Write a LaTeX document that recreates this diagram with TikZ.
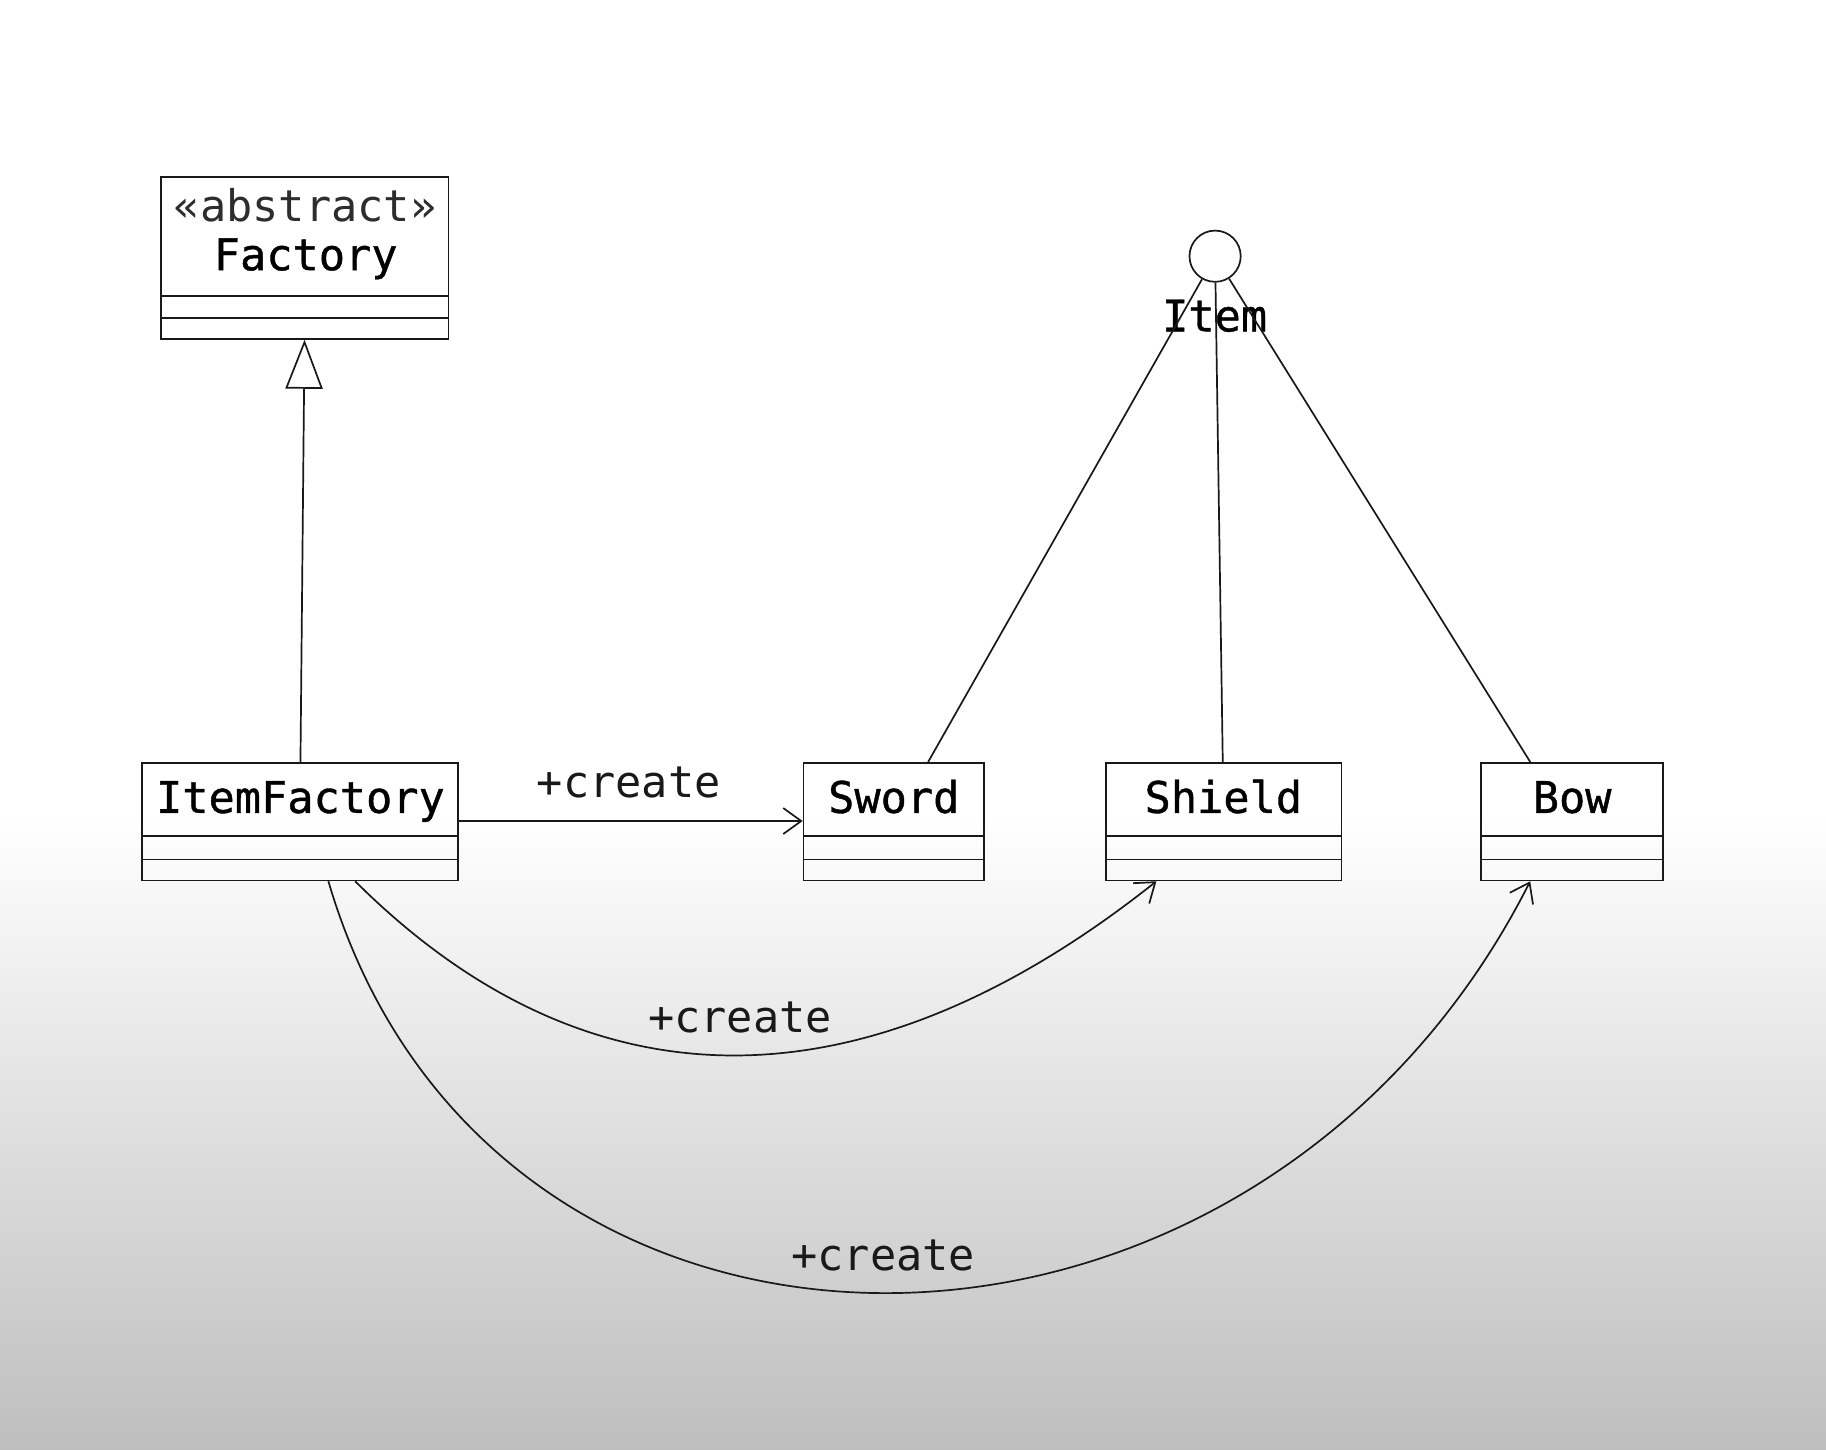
\documentclass[tikz,border=0pt]{standalone}
\usepackage{fontspec}
\setmonofont{DejaVu Sans Mono}
\newfontfamily\namefont[AutoFakeBold=0.9]{DejaVu Sans Mono}
\usetikzlibrary{arrows.meta,fit,calc}
\definecolor{bggray}{RGB}{190,190,190}
\definecolor{ink}{RGB}{25,25,25}
\definecolor{soft}{RGB}{45,45,45}
\begin{document}
\begin{tikzpicture}[x=0.58225pt,y=-0.58225pt,
  classbox/.style={draw=ink, line width=0.85pt, inner sep=0pt},
  comp/.style={draw=ink, line width=0.85pt},
  cname/.style={font=\namefont\bfseries\fontsize{21.8}{26}\selectfont, text=black, inner sep=0pt, anchor=base},
  stereo/.style={font=\ttfamily\fontsize{21.8}{26}\selectfont, text=soft, inner sep=0pt, anchor=base},
  lbl/.style={font=\ttfamily\fontsize{21.8}{26}\selectfont, text=ink, inner sep=0pt, anchor=base},
  conn/.style={draw=ink, line width=0.85pt},
  create/.style={conn, -{Straight Barb[length=9pt,width=13pt,line width=0.85pt]}},
  inherit/.style={conn, -{Triangle[open,length=24.5pt,width=18.6pt,line width=0.85pt]}}
]
% background
\useasboundingbox (0,0) rectangle (1568,1245);
\fill[white] (0,0) rectangle (1568,1245);
\shade[top color=white, bottom color=bggray] (0,700) rectangle (1568,1245.5);

% class boxes
\node[classbox, fit={(138,152) (385,291)}] (factory) {};
\node[classbox, fit={(122,655) (393,756)}] (itemfactory) {};
\node[classbox, fit={(690,655) (845,756)}] (sword) {};
\node[classbox, fit={(950,655) (1152,756)}] (shield) {};
\node[classbox, fit={(1272,655) (1428,756)}] (bow) {};

% compartments
\draw[comp] (factory.west |- 0,254) -- (factory.east |- 0,254);
\draw[comp] (factory.west |- 0,273) -- (factory.east |- 0,273);
\foreach \n in {itemfactory,sword,shield,bow}{
  \draw[comp] (\n.west |- 0,718) -- (\n.east |- 0,718);
  \draw[comp] (\n.west |- 0,738) -- (\n.east |- 0,738);
}

% names
\node[stereo] (stereo) at (262,190) {«abstract»};
\node[cname] (factoryname) at (262.5,232) {Factory};
\node[cname] (itemfactoryname) at (258,698) {ItemFactory};
\node[cname] (swordname) at (767.5,698) {Sword};
\node[cname] (shieldname) at (1050.5,698) {Shield};
\node[cname] (bowname) at (1350,698) {Bow};

% interface lollipop
\node[draw=ink, line width=0.85pt, circle, minimum size=44*0.58225pt, inner sep=0pt, fill=white] (item) at (1043.4,220) {};
\node[cname] (itemname) at (1043,284.5) {Item};

% realization lines
\coordinate (swordtop) at ($(sword.north)+(29.5,0)$);
\coordinate (shieldtop) at ($(shield.north)+(-1,0)$);
\coordinate (bowtop) at ($(bow.north)+(-36,0)$);
\draw[conn] (item) -- (swordtop);
\draw[conn] (item) -- (shieldtop);
\draw[conn] (item) -- (bowtop);

% generalization
\draw[inherit] (itemfactory.north) ++(0.5,0) coordinate (genstart) -- (factory.south);

% create associations
\draw[create] (itemfactory.east |- 0,705) -- (sword.west |- 0,705);
\node[lbl] (c1) at (540,684.5) {+create};

\coordinate (if1) at ($(itemfactory.south)+(47.5,0)$);
\coordinate (sh1) at ($(shield.south)+(-58,0)$);
\draw[create] (if1) .. controls (505,956) and (742,956) .. (sh1);
\node[lbl] (c2) at (635.5,887) {+create};

\coordinate (if2) at ($(itemfactory.south)+(24.5,0)$);
\coordinate (bw1) at ($(bow.south)+(-36,0)$);
\draw[create] (if2) .. controls (420,1228) and (1075,1228) .. (bw1);
\node[lbl] (c3) at (758.5,1091) {+create};
\end{tikzpicture}
\end{document}
